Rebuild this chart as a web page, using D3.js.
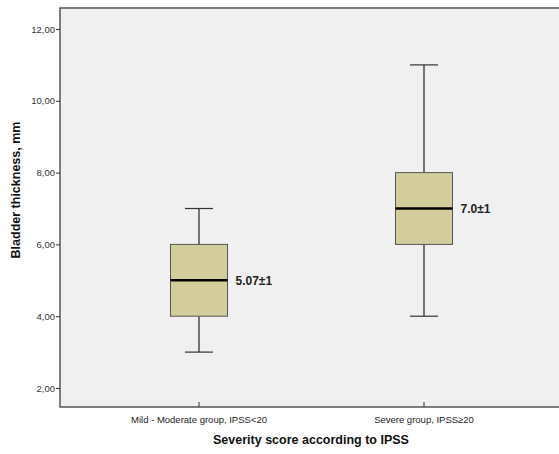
<!DOCTYPE html>
<html lang="en">
  <head>
    <meta charset="utf-8">
    <title>Bladder thickness box plot</title>
    <script src="https://d3js.org/d3.v7.min.js"></script>
    <style>
      body { margin: 0; background: #fff; }
      svg { display: block; font-family: Arial, "Liberation Sans", sans-serif; }
    </style>
  </head>
  <body>
    <svg></svg>
  <script>

// Data

  var groups = ["Mild - Moderate group, IPSS<20", "Severe group, IPSS\u226520"];
  var whiskerLow = [3, 4];
  var q1 = [4, 6];
  var medians = [5, 7];
  var q3 = [6, 8];
  var whiskerHigh = [7, 11];
  var annotations = ["5.07\u00b11", "7.0\u00b11"];
  var yTicks = [2, 4, 6, 8, 10, 12];

  var w = 559;
  var h = 454;
  var plot = {left: 60, top: 8, right: 562, bottom: 407};

  var svg = d3.select("svg")
      .attr("width", w)
      .attr("height", h);

  var xScale = d3.scaleBand()
      .domain(groups)
      .range([86.5, 536.5]);

  var yScale = d3.scaleLinear()
      .domain([2, 12])
      .range([388, 29]);

  // plot background
  svg.append("rect")
      .attr("x", plot.left)
      .attr("y", plot.top)
      .attr("width", plot.right - plot.left)
      .attr("height", plot.bottom - plot.top)
      .attr("fill", "#f0f0f0")
      .attr("stroke", "#555")
      .attr("stroke-width", 1.5);

  var boxW = 57;
  var capW = 28;

  var data = groups.map((g, i) => ({
    key: g, lo: whiskerLow[i], q1: q1[i], med: medians[i],
    q3: q3[i], hi: whiskerHigh[i], label: annotations[i]
  }));

  var boxes = svg.append("g")
    .selectAll("g")
      .data(data)
    .enter().append("g")
      .attr("transform", d => `translate(${xScale(d.key) + xScale.bandwidth() / 2}, 0)`);

  // whiskers
  boxes.append("line")
      .attr("x1", 0).attr("x2", 0)
      .attr("y1", d => yScale(d.hi))
      .attr("y2", d => yScale(d.q3))
      .attr("stroke", "#222").attr("stroke-width", 1.2);

  boxes.append("line")
      .attr("x1", 0).attr("x2", 0)
      .attr("y1", d => yScale(d.q1))
      .attr("y2", d => yScale(d.lo))
      .attr("stroke", "#222").attr("stroke-width", 1.2);

  boxes.selectAll(".cap")
      .data(d => [d.lo, d.hi])
    .enter().append("line")
      .attr("class", "cap")
      .attr("x1", -capW / 2).attr("x2", capW / 2)
      .attr("y1", v => yScale(v)).attr("y2", v => yScale(v))
      .attr("stroke", "#333").attr("stroke-width", 1.2);

  boxes.append("rect")
      .attr("x", -boxW / 2)
      .attr("y", d => yScale(d.q3))
      .attr("width", boxW)
      .attr("height", d => yScale(d.q1) - yScale(d.q3))
      .attr("fill", "#d3cd9b")
      .attr("stroke", "#555")
      .attr("stroke-width", 1);

  boxes.append("line")
      .attr("x1", -boxW / 2).attr("x2", boxW / 2)
      .attr("y1", d => yScale(d.med)).attr("y2", d => yScale(d.med))
      .attr("stroke", "#000").attr("stroke-width", 2.5);

  boxes.append("text")
      .attr("x", boxW / 2 + 8)
      .attr("y", d => yScale(d.med))
      .attr("dy", "0.35em")
      .attr("font-size", 12)
      .attr("font-weight", "bold")
      .attr("fill", "#222")
      .text(d => d.label);

  // axes
  var yAxis = d3.axisLeft(yScale)
      .tickValues(yTicks)
      .tickSize(4)
      .tickSizeOuter(0)
      .tickFormat(d => d3.format(".2f")(d).replace(".", ","));

  var gy = svg.append("g")
      .attr("transform", `translate(${plot.left}, 0)`)
      .call(yAxis);
  gy.select(".domain").remove();
  gy.selectAll(".tick line").attr("stroke", "#333");
  gy.selectAll(".tick text")
      .attr("font-size", 9.5)
      .attr("fill", "#333")
      .attr("x", -5)
      .attr("font-family", "Arial, 'Liberation Sans', sans-serif");

  var xAxis = d3.axisBottom(xScale)
      .tickSize(5)
      .tickSizeOuter(0);

  var gx = svg.append("g")
      .attr("transform", `translate(0, ${plot.bottom})`)
      .call(xAxis);
  gx.select(".domain").remove();
  gx.selectAll(".tick line")
      .attr("y1", -5).attr("y2", 0)
      .attr("stroke", "#333");
  gx.selectAll(".tick text")
      .attr("y", 9)
      .attr("font-size", 9.5)
      .attr("fill", "#222")
      .attr("font-family", "Arial, 'Liberation Sans', sans-serif");

  // axis titles
  svg.append("text")
      .attr("x", 311)
      .attr("y", 444)
      .attr("text-anchor", "middle")
      .attr("font-size", 12.5)
      .attr("font-weight", "bold")
      .attr("fill", "#111")
      .text("Severity score according to IPSS");

  svg.append("text")
      .attr("transform", "translate(20, 190) rotate(-90)")
      .attr("text-anchor", "middle")
      .attr("font-size", 12.5)
      .attr("font-weight", "bold")
      .attr("fill", "#111")
      .text("Bladder thickness, mm");

  </script>
  </body>
</html>
